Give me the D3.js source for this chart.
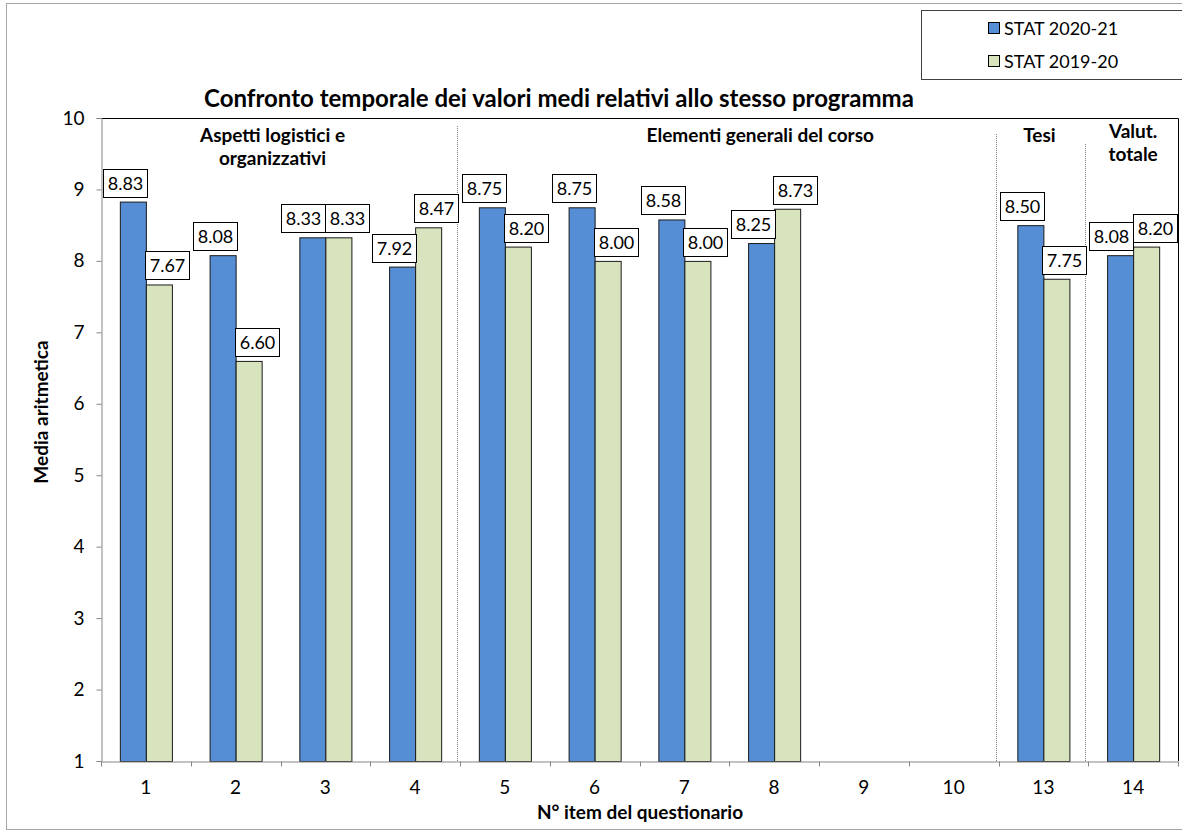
<!DOCTYPE html>
<head>
	<script src="https://d3js.org/d3.v7.min.js"></script>
	<style>
		body {
			margin: 0;
			background: #fff;
		}
		text {
			font-family: "Lato", "Open Sans", sans-serif;
			fill: #000;
		}
		.title { font-size: 24px; font-weight: bold; }
		.section { font-size: 19px; font-weight: bold; }
		.axis-title { font-size: 19px; font-weight: bold; }
		.tick text { font-size: 19px; }
		.lbl { font-size: 18px; }
		.legend text { font-size: 18px; }
	</style>
</head>
<body>
	<script>
		// data
		var categories = ["1", "2", "3", "4", "5", "6", "7", "8", "9", "10", "13", "14"];
		var seriesNames = ["STAT 2020-21", "STAT 2019-20"];
		var stat2021 = [8.83, 8.08, 8.33, 7.92, 8.75, 8.75, 8.58, 8.25, null, null, 8.50, 8.08];
		var stat1920 = [7.67, 6.60, 8.33, 8.47, 8.20, 8.00, 8.00, 8.73, null, null, 7.75, 8.20];
		var yTicks = [1, 2, 3, 4, 5, 6, 7, 8, 9, 10];
		var sections = [
			{ lines: ["Aspetti logistici e", "organizzativi"], first: "1", last: "4" },
			{ lines: ["Elementi generali del corso"], first: "5", last: "10" },
			{ lines: ["Tesi"], first: "13", last: "13" },
			{ lines: ["Valut.", "totale"], first: "14", last: "14" }
		];

		var W = 1182, H = 831;
		var plot = { left: 101, top: 118, right: 1178, bottom: 761 };
		var colors = ["#558ed5", "#d7e4bd"];

		var svg = d3.select("body").append("svg")
			.attr("width", W)
			.attr("height", H);

		// outer chart frame
		svg.append("rect")
			.attr("x", 6.5).attr("y", 3.5)
			.attr("width", W).attr("height", 826)
			.attr("fill", "none")
			.attr("stroke", "#a6a6a6");

		// scales
		var x = d3.scaleBand()
			.domain(categories)
			.range([plot.left, plot.right]);
		var groupW = x.bandwidth() * 0.58;
		var x1 = d3.scaleBand()
			.domain(seriesNames)
			.range([(x.bandwidth() - groupW) / 2, (x.bandwidth() + groupW) / 2]);
		var y = d3.scaleLinear()
			.domain([1, 10])
			.range([plot.bottom, plot.top]);

		// plot border (top + right)
		svg.append("path")
			.attr("d", "M" + plot.left + "," + (plot.top + 0.5) + "H" + (plot.right + 0.5) + "V" + plot.bottom)
			.attr("fill", "none")
			.attr("stroke", "#000");

		// dotted separators between sections
		var sepTops = [8, 16, 26];
		sections.slice(1).forEach(function(s, i) {
			var sx = Math.round(x(s.first)) - 2.5;
			svg.append("line")
				.attr("x1", sx).attr("x2", sx)
				.attr("y1", plot.top + sepTops[i]).attr("y2", plot.bottom)
				.attr("stroke", "#808080")
				.attr("stroke-dasharray", "1,1");
		});

		// bars
		var rows = categories.map(function(c, i) {
			return { cat: c, vals: [stat2021[i], stat1920[i]] };
		});
		var groups = svg.selectAll("g.grp")
			.data(rows)
			.enter().append("g")
			.attr("class", "grp")
			.attr("transform", d => "translate(" + x(d.cat) + ",0)");

		groups.selectAll("rect")
			.data(d => d.vals.map((v, k) => ({ v: v, k: k })).filter(e => e.v != null))
			.enter().append("rect")
			.attr("x", e => x1(seriesNames[e.k]) + 0.5)
			.attr("y", e => y(e.v) + 0.5)
			.attr("width", x1.bandwidth())
			.attr("height", e => y(1) - y(e.v))
			.attr("fill", e => colors[e.k])
			.attr("stroke", "#1a1a1a")
			.attr("stroke-width", 1);

		// y axis
		var yAxis = d3.axisLeft(y)
			.tickValues(yTicks)
			.tickSize(5)
			.tickPadding(12)
			.tickFormat(d3.format("d"));
		var gy = svg.append("g")
			.attr("transform", "translate(" + (plot.left + 0.5) + ",0)")
			.call(yAxis);
		gy.select(".domain").attr("stroke", "#868686");
		gy.selectAll(".tick line").attr("stroke", "#868686");

		// x axis: labels at band centers, ticks at band edges
		var xAxis = d3.axisBottom(x)
			.tickSize(0)
			.tickPadding(19);
		var gx = svg.append("g")
			.attr("transform", "translate(0," + (plot.bottom + 0.5) + ")")
			.call(xAxis);
		gx.select(".domain").attr("stroke", "#868686");
		var edges = categories.map(c => x(c)).concat([plot.right]);
		gx.selectAll("line.edge")
			.data(edges)
			.enter().append("line")
			.attr("class", "edge")
			.attr("x1", d => Math.round(d) + 0.5)
			.attr("x2", d => Math.round(d) + 0.5)
			.attr("y1", 0).attr("y2", 5)
			.attr("stroke", "#868686");

		// data labels: boxes above each bar, blue nudged left and green right
		var labels = [];
		rows.forEach(function(r) {
			r.vals.forEach(function(v, k) {
				if (v == null) return;
				var cx = x(r.cat) + x1(seriesNames[k]) + x1.bandwidth() / 2 + (k === 0 ? -8 : 8);
				labels.push({ v: v, cat: r.cat, k: k, cx: cx, bottom: y(v) - 5 });
			});
		});
		var bw = 44, bh = 28;
		// push overlapping pairs apart horizontally
		for (var i = 0; i + 1 < labels.length; i++) {
			var a = labels[i], b = labels[i + 1];
			if (a.cat !== b.cat) continue;
			var vOverlap = Math.abs(a.bottom - b.bottom) < bh;
			var gap = (b.cx - bw / 2) - (a.cx + bw / 2);
			if (vOverlap && gap < 0) {
				a.cx += gap / 2;
				b.cx -= gap / 2;
			}
		}
		var lg = svg.selectAll("g.lbl")
			.data(labels)
			.enter().append("g")
			.attr("transform", d => "translate(" + Math.round(d.cx - bw / 2) + "," + Math.round(d.bottom - bh) + ")");
		lg.append("rect")
			.attr("x", 0.5).attr("y", 0.5)
			.attr("width", bw).attr("height", bh)
			.attr("fill", "#fff")
			.attr("stroke", "#000");
		lg.append("text")
			.attr("class", "lbl")
			.attr("x", bw / 2 + 0.5)
			.attr("y", bh / 2 + 7)
			.attr("text-anchor", "middle")
			.text(d => d.v.toFixed(2));

		// section headings
		var sectionShift = [-8, 31, -4, 0];
		sections.forEach(function(s, i) {
			var cx = (x(s.first) + x(s.last) + x.bandwidth()) / 2 + sectionShift[i];
			if (s.first === "5") cx = x("8") + sectionShift[i];
			var t = svg.append("text")
				.attr("class", "section")
				.attr("text-anchor", "middle");
			s.lines.forEach(function(line, j) {
				t.append("tspan")
					.attr("x", cx)
					.attr("y", (s.lines.length > 1 && s.last === "14" ? 138 : 142) + j * 23)
					.text(line);
			});
		});

		// title
		svg.append("text")
			.attr("class", "title")
			.attr("x", 559).attr("y", 107)
			.attr("text-anchor", "middle")
			.text("Confronto temporale dei valori medi relativi allo stesso programma");

		// axis titles
		svg.append("text")
			.attr("class", "axis-title")
			.attr("x", 640).attr("y", 819)
			.attr("text-anchor", "middle")
			.text("N° item del questionario");
		svg.append("text")
			.attr("class", "axis-title")
			.attr("transform", "translate(48,412) rotate(-90)")
			.attr("text-anchor", "middle")
			.text("Media aritmetica");

		// legend
		var legend = svg.append("g").attr("class", "legend");
		legend.append("rect")
			.attr("x", 921.5).attr("y", 10.5)
			.attr("width", 270).attr("height", 69)
			.attr("fill", "#fff")
			.attr("stroke", "#404040");
		seriesNames.forEach(function(n, k) {
			var cy = 29 + k * 33;
			legend.append("rect")
				.attr("x", 988.5).attr("y", cy - 6.5)
				.attr("width", 11).attr("height", 11)
				.attr("fill", colors[k])
				.attr("stroke", "#000");
			legend.append("text")
				.attr("x", 1004).attr("y", cy + 6)
				.text(n);
		});
	</script>
</body>
</html>
